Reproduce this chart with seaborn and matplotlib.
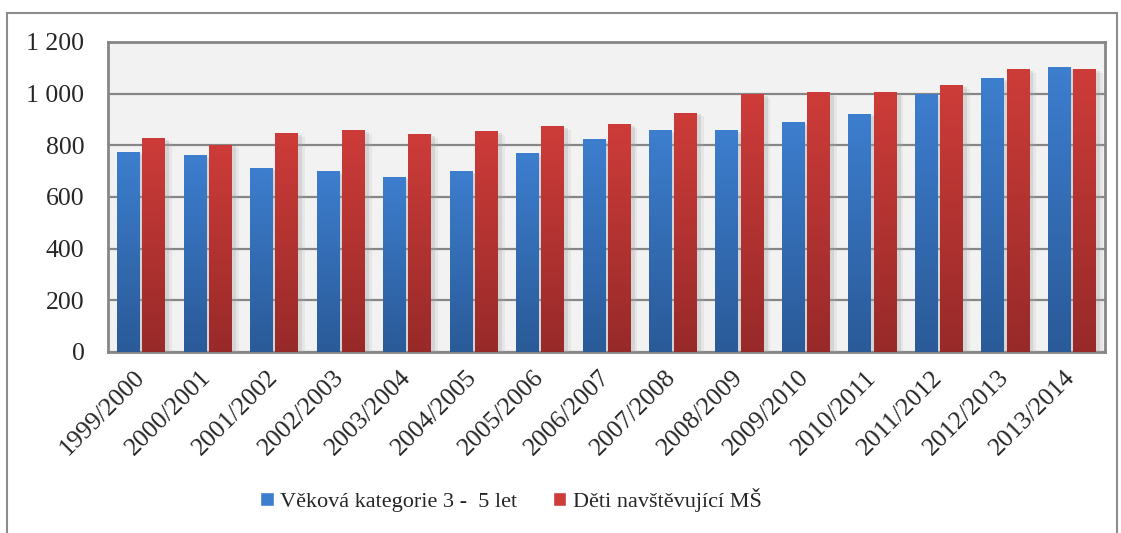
import numpy as np
import pandas as pd
import matplotlib.pyplot as plt
import matplotlib.patheffects as pe
import seaborn as sns
from matplotlib.colors import LinearSegmentedColormap
from matplotlib.patches import Rectangle
from matplotlib.ticker import FuncFormatter

# data
years = ["1999/2000", "2000/2001", "2001/2002", "2002/2003", "2003/2004",
         "2004/2005", "2005/2006", "2006/2007", "2007/2008", "2008/2009",
         "2009/2010", "2010/2011", "2011/2012", "2012/2013", "2013/2014"]
vek_3_5 = [774, 759, 712, 697, 677, 700, 770, 821, 856, 856,
           887, 921, 995, 1057, 1100]
deti_ms = [825, 801, 844, 856, 840, 852, 871, 879, 925, 995,
           1003, 1003, 1030, 1092, 1092]
series = ["Věková kategorie 3 -  5 let", "Děti navštěvující MŠ"]
y_ticks = [0, 200, 400, 600, 800, 1000, 1200]

blue = ("#3d7ece", "#2a5a98")   # top, bottom
red = ("#cd3c39", "#972a29")

df = pd.DataFrame({"rok": years, series[0]: vek_3_5, series[1]: deti_ms})
df = df.melt(id_vars="rok", var_name="serie", value_name="pocet")

sns.set_style("white")
plt.rcParams["font.family"] = ["Liberation Serif", "DejaVu Serif"]

fig = plt.figure(figsize=(11.21, 5.33), dpi=100)
ax = fig.add_axes([108 / 1121, 1 - 352 / 533, (1105 - 108) / 1121, (352 - 42) / 533])
ax.set_facecolor("#f2f2f2")

sns.barplot(data=df, x="rok", y="pocet", hue="serie", palette=[blue[0], red[0]],
            width=0.76, gap=0.1, saturation=1, ax=ax, zorder=3)

# gradient fill per bar (light top, dark bottom) + soft shadow
grad = np.linspace(0, 1, 256).reshape(-1, 1)
n = len(years)
for i, bar in enumerate(ax.patches[:2 * n]):
    cols = blue if i < n else red
    cmap = LinearSegmentedColormap.from_list("g", [cols[1], cols[0]])
    x0, w, h = bar.get_x(), bar.get_width(), bar.get_height()
    ax.imshow(grad, cmap=cmap, extent=[x0, x0 + w, 0, h], origin="lower",
              aspect="auto", zorder=4)
    bar.set_facecolor("none")
    bar.set_path_effects([
        pe.SimplePatchShadow(offset=(5, -2), shadow_rgbFace="#b0b0b0", alpha=0.18),
        pe.SimplePatchShadow(offset=(3, -1), shadow_rgbFace="#a0a0a0", alpha=0.25),
    ])

ax.set_xlim(-0.5, n - 0.5)
ax.set_ylim(0, 1200)
ax.set_yticks(y_ticks)
ax.yaxis.set_major_formatter(FuncFormatter(lambda v, p: f"{v:,.0f}".replace(",", " ")))
ax.grid(axis="y", color="#868686", linewidth=1.6, zorder=1)
ax.set_axisbelow(True)
ax.set_xlabel("")
ax.set_ylabel("")
for s in ax.spines.values():
    s.set_color("#868686")
    s.set_linewidth(2)
ax.tick_params(axis="y", length=0, pad=17, labelsize=18.5)
ax.tick_params(axis="x", length=0, pad=16, labelsize=18.5)
plt.setp(ax.get_xticklabels(), rotation=45, ha="right", va="center",
         rotation_mode="anchor")

handles, labels = ax.get_legend_handles_labels()
ax.get_legend().remove()
fig.legend(handles, labels, loc="center", bbox_to_anchor=(511 / 1121, 1 - 500 / 533),
           ncol=2, frameon=False, fontsize=16, handlelength=0.6, handleheight=0.6,
           handletextpad=0.3, columnspacing=1.6)

# outer chart border
fig.patches.append(Rectangle((7 / 1121, -0.05), (1117 - 7) / 1121, 1 - 13 / 533 + 0.05,
                             transform=fig.transFigure, fill=False,
                             edgecolor="#8c8c8c", linewidth=1.5))

fig.savefig("out.png", dpi=100)
